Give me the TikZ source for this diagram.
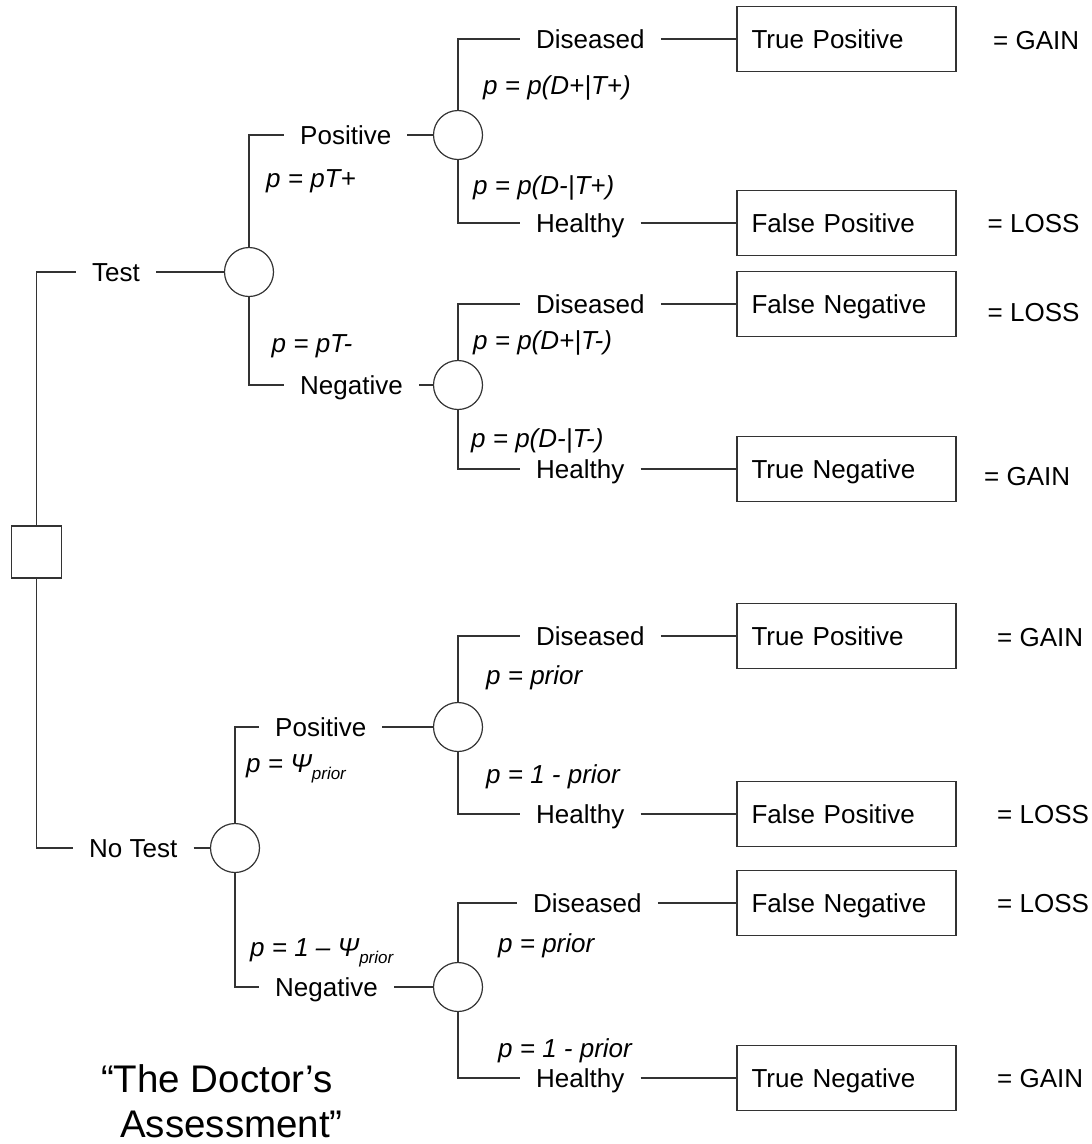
\documentclass[tikz,border=0pt]{standalone}
\usepackage{fontspec}
\setmainfont{Liberation Sans}
\begin{document}
\begin{tikzpicture}[x=1pt,y=-1pt,
  ln/.style={draw=black!80, line width=1.2pt},
  chance/.style={circle, draw=black!80, line width=1.2pt, minimum size=49pt, inner sep=0pt},
  decision/.style={rectangle, draw=black!80, line width=1.2pt, minimum width=50pt, minimum height=52pt, inner sep=0pt},
  lbl/.style={anchor=west, inner xsep=16pt, inner ysep=0pt, font=\fontsize{26}{30}\selectfont, text height=22pt, text depth=3.4pt},
  prob/.style={anchor=west, inner sep=0pt, font=\fontsize{26}{30}\selectfont\itshape, text height=22pt, text depth=3.4pt},
  outcome/.style={rectangle, draw=black!80, line width=1.2pt, minimum width=219pt, minimum height=65pt, text width=190pt, align=left, inner xsep=14.5pt, font=\fontsize{26}{30}\selectfont, text height=22pt, text depth=3.4pt},
  result/.style={anchor=west, inner sep=0pt, font=\fontsize{26}{30}\selectfont, text height=22pt, text depth=3.4pt},
  titletext/.style={font=\fontsize{38.5}{44}\selectfont, inner sep=0pt}
]
\useasboundingbox (0,0) rectangle (1092,1144);
\newcommand{\sbprior}{\raisebox{-7pt}{\fontsize{17}{17}\selectfont\itshape prior}}

% decision node
\node[decision] (dec) at (36.5,552) {};

% first level
\node[lbl] (Test) at (76,272) {Test};
\node[lbl] (NoTest) at (73,848) {No Test};
\node[chance] (c0) at (249,272) {};
\node[chance] (c3) at (235,848) {};

% second level
\node[lbl] (PosT) at (284,135) {Positive};
\node[lbl] (NegT) at (284,385) {Negative};
\node[lbl] (PosL) at (259,727) {Positive};
\node[lbl] (NegL) at (259,987) {Negative};
\node[chance] (c1) at (458,135) {};
\node[chance] (c2) at (458,385) {};
\node[chance] (c4) at (458,727) {};
\node[chance] (c5) at (458,987) {};

% third level
\node[lbl] (D1) at (520,39) {Diseased};
\node[lbl] (H1) at (520,223) {Healthy};
\node[lbl] (D2) at (520,304) {Diseased};
\node[lbl] (H2) at (520,469) {Healthy};
\node[lbl] (D3) at (520,636) {Diseased};
\node[lbl] (H3) at (520,814) {Healthy};
\node[lbl] (D4) at (517,903) {Diseased};
\node[lbl] (H4) at (520,1078) {Healthy};

% outcome boxes
\node[outcome] (TP1) at (846.5,39) {True Positive};
\node[outcome] (FP1) at (846.5,223) {False Positive};
\node[outcome] (FN1) at (846.5,304) {False Negative};
\node[outcome] (TN1) at (846.5,469) {True Negative};
\node[outcome] (TP2) at (846.5,636) {True Positive};
\node[outcome] (FP2) at (846.5,814) {False Positive};
\node[outcome] (FN2) at (846.5,903) {False Negative};
\node[outcome] (TN2) at (846.5,1078) {True Negative};

% results
\node[result] (r1) at (993,40) {= GAIN};
\node[result] (r2) at (987.5,223) {= LOSS};
\node[result] (r3) at (987.5,312) {= LOSS};
\node[result] (r4) at (984,476) {= GAIN};
\node[result] (r5) at (997,637) {= GAIN};
\node[result] (r6) at (997,814) {= LOSS};
\node[result] (r7) at (997,903) {= LOSS};
\node[result] (r8) at (997,1078) {= GAIN};

% probabilities
\node[prob] (p1) at (483,85) {p = p(D+|T+)};
\node[prob] (p2) at (266,178) {p = pT+};
\node[prob] (p3) at (473,185) {p = p(D-|T+)};
\node[prob] (p4) at (271.5,343) {p = pT-};
\node[prob] (p5) at (473,340) {p = p(D+|T-)};
\node[prob] (p6) at (471,438) {p = p(D-|T-)};
\node[prob] (p7) at (486,675) {p = prior};
\node[prob] (p8) at (246,763) {p = Ψ\sbprior};
\node[prob] (p9) at (486,774) {p = 1 - prior};
\node[prob] (p10) at (250,947) {p = 1 – Ψ\sbprior};
\node[prob] (p11) at (498,943) {p = prior};
\node[prob] (p12) at (498,1048) {p = 1 - prior};

% title
\node[titletext] (t1) at (217,1079) {“The Doctor’s};
\node[titletext] (t2) at (231.5,1124) {Assessment”};

% connectors
\draw[ln] (dec.north) |- (Test.west);
\draw[ln] (dec.south) |- (NoTest.west);
\draw[ln] (Test.east) -- (c0.west);
\draw[ln] (NoTest.east) -- (c3.west);
\draw[ln] (c0.north) |- (PosT.west);
\draw[ln] (c0.south) |- (NegT.west);
\draw[ln] (c3.north) |- (PosL.west);
\draw[ln] (c3.south) |- (NegL.west);
\draw[ln] (PosT.east) -- (c1.west);
\draw[ln] (NegT.east) -- (c2.west);
\draw[ln] (PosL.east) -- (c4.west);
\draw[ln] (NegL.east) -- (c5.west);
\draw[ln] (c1.north) |- (D1.west);
\draw[ln] (c1.south) |- (H1.west);
\draw[ln] (c2.north) |- (D2.west);
\draw[ln] (c2.south) |- (H2.west);
\draw[ln] (c4.north) |- (D3.west);
\draw[ln] (c4.south) |- (H3.west);
\draw[ln] (c5.north) |- (D4.west);
\draw[ln] (c5.south) |- (H4.west);
\draw[ln] (D1.east) -- (TP1.west);
\draw[ln] (H1.east) -- (FP1.west);
\draw[ln] (D2.east) -- (FN1.west);
\draw[ln] (H2.east) -- (TN1.west);
\draw[ln] (D3.east) -- (TP2.west);
\draw[ln] (H3.east) -- (FP2.west);
\draw[ln] (D4.east) -- (FN2.west);
\draw[ln] (H4.east) -- (TN2.west);
\end{tikzpicture}
\end{document}
